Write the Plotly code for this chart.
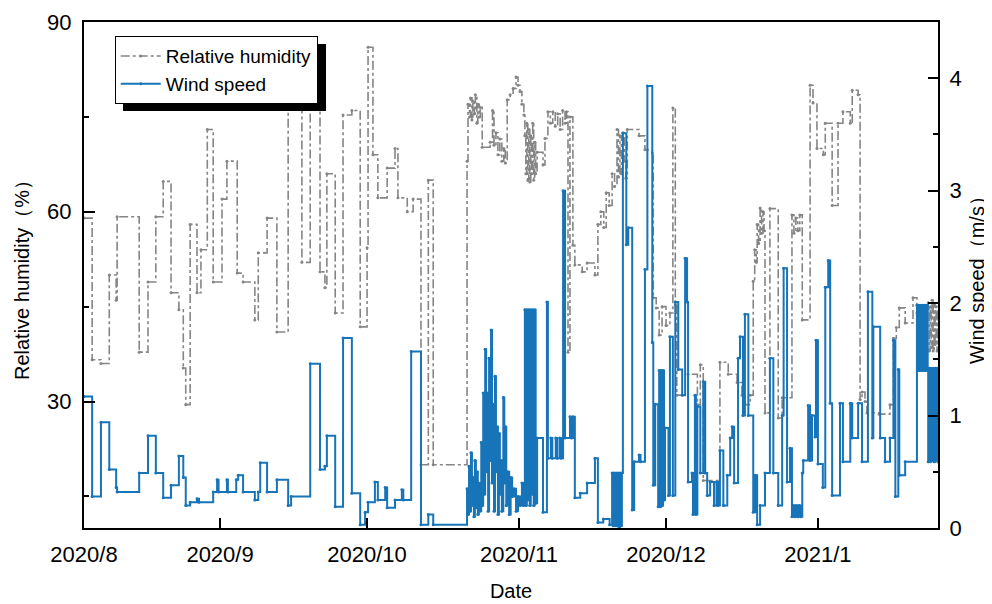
import pandas as pd
import plotly.graph_objects as go

# ---------------- data (day offsets from 2020-08-01) ----------------
BASE_DATE = "2020-08-01"
X_START_DAY = 3.24
X_END_DAY = 177.5

rh_day = [3.24, 4.9, 6.7, 8.4, 9.8, 10.0, 14.5, 16.3, 17.9, 19.4, 21.0, 22.6, 23.5, 24.0, 24.9,
          26.3, 27.1, 28.4, 29.6, 31.4, 32.4, 34.5, 35.7, 38.1, 38.8, 40.6, 42.6, 44.9, 45.5,
          47.7, 49.4, 51.4, 52.4, 52.8, 54.5, 56.1, 57.9, 59.6, 61.0, 61.2, 62.2, 63.2, 65.1,
          66.7, 67.3, 69.2, 70.4, 72.0, 73.5, 74.5,
          81.4, 81.6, 81.9, 82.1, 82.4, 82.6, 82.9, 83.1, 83.4, 83.6, 83.9, 84.1, 84.5,
          86.1, 86.6, 86.9, 87.3, 87.7, 88.1, 88.5, 88.9, 89.2, 89.6, 90.2, 90.8, 91.4, 91.8,
          92.2, 92.6, 93.0, 93.2, 93.4, 93.6, 93.8, 94.0, 94.2, 94.4, 94.6, 94.8, 95.0, 95.2,
          95.4, 95.7, 96.9, 97.3, 97.9, 98.4, 98.9, 99.4, 99.9, 100.4, 100.9, 101.4, 101.7,
          102.0, 102.4, 103.0, 103.4, 104.9, 105.9, 107.5, 108.1, 108.7, 109.3, 109.8, 110.4,
          111.0, 111.5, 112.0, 112.3, 112.6, 112.9, 113.2, 113.5, 113.8, 114.1, 116.5, 117.7,
          119.2, 119.4, 120.0, 120.6, 121.2, 122.0, 122.8, 123.4, 123.9, 124.2, 126.5, 128.4,
          129.0, 129.6, 133.0, 134.7, 136.5, 137.5, 138.1, 139.2, 139.8, 140.1, 140.4, 140.6,
          140.9, 141.2, 141.5, 141.8, 142.0, 142.2, 143.2, 144.9, 145.7, 147.7, 148.1, 148.5,
          148.9, 149.3, 149.8, 151.4, 152.0, 152.8, 154.1, 154.5, 155.9, 157.1, 158.1, 159.6,
          160.0, 161.2, 161.6, 162.0, 162.6, 163.0, 165.5, 167.7, 168.4, 169.0, 169.6, 170.8,
          172.4, 173.2, 175.5, 175.7, 175.9, 176.1, 176.3, 176.5, 176.7, 176.9, 177.1, 177.3,
          177.5]
rh_val = [59, 36.6, 36, 50, 46, 59.2, 37.8, 48.9, 59.2, 64.8, 47.2, 44.5, 35.3, 29.5, 58,
          47.2, 54, 73, 48.9, 62, 68, 50.3, 48.9, 42.9, 53.5, 59, 41, 80, 84,
          52, 78, 50.5, 48, 66, 44, 75.3, 76, 41.8, 54.3, 86, 69, 62.2, 66.9,
          70, 62.2, 60, 62, 20, 65, 20,
          68, 77, 75, 78, 74.5, 77.5, 75.5, 78.5, 74, 77, 75, 76.5, 70.2,
          71, 76, 70.5, 72.5, 69, 71.5, 68, 70, 67.7, 77.7, 78.5, 79.5, 81.3, 80,
          79, 77, 75.3, 72, 66, 74, 65, 73, 64.7, 72, 66, 74, 65, 71,
          66, 69.4, 67.4, 71.6, 75.8, 74, 75.8, 73.5, 75.5, 73, 76, 74, 75.8,
          37.8, 75, 54.7, 51.6, 50.5, 51.9, 50, 58, 60, 57.5, 63, 61,
          66, 64, 73, 65.5, 72, 66, 72.5, 68, 65.3, 73, 72, 69.8,
          69.3, 46.4, 44.8, 40.5, 45, 42, 44, 76.4, 45.3, 31, 34.3, 29.5,
          35.8, 17.5, 36.2, 34.3, 33, 31, 29.5, 31, 49, 54, 52, 58,
          55, 60.6, 56.6, 60, 57, 28.2, 60.5, 27.4, 30.6, 59.5, 56.6, 59,
          57, 59.5, 42.9, 80, 77.2, 70, 69, 74, 61, 74, 75.8, 74,
          79.2, 78.5, 30.3, 31.5, 30, 28.2, 28, 29.5, 40, 41.7, 44.8, 42.4,
          46.4, 44, 45.6, 38, 45, 38.5, 46, 38, 45.5, 39, 45, 38,
          44]

ws_day = [3.24, 4.9, 6.7, 8.4, 9.8, 10.0, 14.5, 16.3, 17.9, 19.4, 21.0, 22.6, 23.5, 24.0, 24.9,
          26.3, 26.7, 29.6, 30.4, 30.7, 32.4, 32.6, 34.3, 34.7, 35.7, 38.1, 38.8, 39.2, 40.6,
          42.6, 44.9, 45.5, 49.4, 51.4, 52.4, 52.8, 54.5, 56.1, 57.9, 59.6, 60.6, 61.2, 62.6,
          63.2, 64.7, 65.1, 66.7, 68.1, 68.4, 70.0, 72.0, 73.5, 74.5,
          81.4, 81.6, 81.8, 82.0, 82.2, 82.4, 82.6, 82.8, 83.0, 83.2, 83.4, 83.6, 83.8, 84.0,
          84.3, 84.5, 84.7, 84.9, 85.1, 85.3, 85.5, 85.7, 85.9, 86.1, 86.3, 86.5, 86.7, 86.9,
          87.1, 87.3, 87.5, 87.7, 87.9, 88.1, 88.3, 88.5, 88.8, 89.0, 89.2, 89.4, 89.7, 90.0,
          90.3, 90.6, 91.0, 91.4, 91.8, 92.2, 92.6, 92.9,
          93.2, 93.4, 93.6, 93.8, 94.0, 94.2, 94.4, 94.6, 94.8, 95.0, 95.2, 95.4,
          95.7, 96.9, 97.7, 97.9, 98.5, 98.8, 99.5, 99.8, 100.3, 100.6, 101.0, 101.4, 102.4,
          102.7, 103.0, 103.4, 104.5, 105.9, 107.5, 108.1, 109.2, 110.5,
          111.0, 111.2, 111.4, 111.6, 111.8, 112.0, 112.2, 112.4, 112.6, 112.8,
          113.0, 113.2, 113.9, 114.3, 115.1, 115.5, 116.5, 116.8, 117.7, 118.2, 119.2, 119.4,
          119.8, 120.4, 120.6, 120.8, 121.0, 121.2, 121.4, 121.6, 121.8, 122.5, 122.8, 123.4,
          123.9, 124.5, 125.3, 125.9, 126.3, 126.5, 127.3, 127.5, 127.9, 128.1, 128.4, 129.0,
          129.6, 130.0, 130.4, 131.0, 131.8, 132.3, 132.6, 133.0, 133.7, 134.5, 135.1, 135.5,
          135.9, 136.7, 137.1, 137.7, 138.1, 138.8, 139.8, 140.2, 140.6, 141.2, 142.2, 143.2,
          143.9, 144.9, 145.7, 146.0, 146.7, 147.3, 147.7, 148.0, 148.3, 148.6, 148.9, 149.2,
          149.5, 149.8, 150.0, 151.0, 151.4, 151.8, 152.4, 152.6, 153.0, 154.0, 154.5, 155.1,
          155.5, 155.9, 157.5, 158.1, 159.6, 160.0, 161.2, 162.0, 163.2, 164.1, 164.3, 165.7,
          166.7, 167.7, 168.4, 168.8, 169.4, 169.6, 170.8,
          173.2, 173.4, 173.6, 173.8, 174.0, 174.2, 174.4, 174.6, 174.8, 175.0, 175.2, 175.4,
          175.5, 175.7, 175.9, 176.1, 176.3, 176.5, 176.7, 176.9, 177.1, 177.3, 177.5]
ws_val = [1.17, 0.28, 0.94, 0.52, 0.36, 0.32, 0.49, 0.82, 0.49, 0.27, 0.38, 0.64, 0.45, 0.2, 0.23,
          0.26, 0.23, 0.32, 0.43, 0.32, 0.43, 0.32, 0.43, 0.47, 0.32, 0.25, 0.32, 0.58, 0.32,
          0.43, 0.2, 0.28, 1.46, 0.52, 0.55, 0.82, 0.19, 1.69, 0.31, 0.03, 0.14, 0.23, 0.41,
          0.25, 0.36, 0.18, 0.25, 0.34, 0.25, 1.57, 0.03, 0.12, 0.03,
          0.35, 0.12, 0.55, 0.15, 0.67, 0.2, 0.45, 0.1, 0.6, 0.18, 0.5, 0.12, 0.4, 0.15,
          0.76, 0.2, 1.2, 0.3, 1.59, 0.5, 1.2, 0.15, 1.51, 0.6, 1.76, 0.4, 1.1, 0.15,
          1.35, 0.5, 0.9, 0.12, 0.84, 0.3, 0.6, 0.15, 1.16, 0.4, 0.9, 0.2, 0.5, 0.12,
          0.45, 0.28, 0.35, 0.15, 0.28, 0.2, 0.4, 0.2,
          1.94, 0.2, 1.94, 0.25, 1.94, 0.2, 1.94, 0.3, 1.94, 0.2, 1.94, 0.22,
          0.8, 0.14, 2.01, 0.62, 0.8, 0.62, 0.8, 0.62, 0.8, 0.62, 3.0, 0.8, 0.99,
          0.8, 0.99, 0.27, 0.31, 0.4, 0.62, 0.05, 0.08, 0.03,
          0.49, 0.02, 0.49, 0.02, 0.49, 0.02, 0.49, 0.0, 0.49, 0.02,
          0.49, 3.51, 2.52, 2.67, 0.16, 0.59, 0.65, 0.59, 2.3, 3.93, 1.65, 0.38,
          1.1, 0.19, 1.4, 0.19, 1.4, 0.2, 1.4, 0.25, 0.89, 0.29, 1.7, 0.29,
          2.01, 1.41, 1.18, 2.4, 2.01, 0.41, 0.49, 0.12, 1.18, 0.12, 1.08, 0.49,
          1.3, 0.49, 0.29, 0.41, 0.2, 0.41, 0.2, 0.69, 0.2, 0.47, 0.8, 0.9,
          0.4, 1.51, 1.7, 1.0, 1.9, 1.0, 0.14, 0.47, 0.03, 0.2, 0.49, 1.51,
          0.49, 0.2, 1.0, 2.31, 0.41, 0.71, 0.1, 0.2, 0.1, 0.2, 0.1, 0.2,
          0.1, 0.49, 0.6, 1.09, 0.6, 1.0, 0.81, 1.67, 0.57, 0.36, 2.14, 2.38,
          1.11, 0.29, 1.11, 0.59, 1.11, 0.8, 1.11, 0.59, 2.1, 0.8, 1.79, 0.8,
          0.59, 0.8, 1.67, 0.28, 1.41, 0.47, 0.59,
          1.98, 1.4, 1.98, 1.4, 1.98, 1.4, 1.98, 1.4, 1.98, 1.4, 1.98, 1.4,
          0.59, 1.42, 0.59, 1.42, 0.6, 1.42, 0.59, 1.42, 0.6, 1.42, 0.59]

x_tick_days = [X_START_DAY, 31, 61, 92, 122, 153]
x_tick_text = ["2020/8", "2020/9", "2020/10", "2020/11", "2020/12", "2021/1"]
rh_ticks = [30, 60, 90]
rh_minor = [15, 45, 75]
ws_ticks = [0, 1, 2, 3, 4]
ws_minor = [0.5, 1.5, 2.5, 3.5, 4.5]

# ---------------- build ----------------
base = pd.Timestamp(BASE_DATE)
to_dt = lambda days: [base + pd.to_timedelta(d, unit="D") for d in days]

FONT = "Arial, 'Liberation Sans', sans-serif"
GRAY = "#858585"
BLUE = "#1874b8"

fig = go.Figure()
fig.add_trace(go.Scatter(
    x=to_dt(rh_day), y=rh_val, name="Relative humidity", mode="lines+markers",
    line=dict(color=GRAY, width=1.6, dash="dashdot", shape="hv"),
    marker=dict(color=GRAY, size=3), yaxis="y"))
fig.add_trace(go.Scatter(
    x=to_dt(ws_day), y=ws_val, name="Wind speed", mode="lines+markers",
    line=dict(color=BLUE, width=2, shape="hv"),
    marker=dict(color=BLUE, size=3), yaxis="y2"))

axis_common = dict(showline=True, linecolor="black", linewidth=2, ticks="inside",
                   tickcolor="black", tickwidth=2, showgrid=False, zeroline=False,
                   automargin=False,
                   tickfont=dict(family=FONT, size=22, color="black"))

# the page body adds an 8px offset, so the figure is 8px smaller and margins shifted
fig.update_layout(
    width=984, height=596,
    margin=dict(l=76, r=54, t=14, b=76, autoexpand=False),
    paper_bgcolor="white", plot_bgcolor="white",
    font=dict(family=FONT, color="black"),
    xaxis=dict(**axis_common, mirror=True, ticklen=10, ticklabelstandoff=6,
               range=to_dt([X_START_DAY, X_END_DAY]),
               tickmode="array", tickvals=to_dt(x_tick_days), ticktext=x_tick_text,
               title=dict(text="Date", font=dict(family=FONT, size=20), standoff=18)),
    yaxis=dict(**axis_common, range=[10, 90], ticklen=11, ticklabelstandoff=6,
               tickmode="array", tickvals=rh_ticks,
               minor=dict(tickvals=rh_minor, ticks="inside", ticklen=5, tickwidth=2, tickcolor="black"),
               title=dict(text="Relative humidity（%）", font=dict(family=FONT, size=20), standoff=12)),
    yaxis2=dict(**axis_common, range=[0, 4.5], overlaying="y", side="right", ticklen=10,
                ticklabelstandoff=5,
                tickmode="array", tickvals=ws_ticks,
                minor=dict(tickvals=ws_minor, ticks="inside", ticklen=5, tickwidth=2, tickcolor="black"),
                title=dict(text="Wind speed（m/s）", font=dict(family=FONT, size=20), standoff=9)),
    legend=dict(x=0.036, y=0.972, xanchor="left", yanchor="top", bgcolor="white",
                bordercolor="black", borderwidth=1, font=dict(family=FONT, size=19),
                tracegroupgap=0, itemwidth=40),
    shapes=[dict(type="rect", xref="paper", yref="paper", x0=0.0457, x1=0.2834,
                 y0=0.824, y1=0.9565, fillcolor="black", line=dict(width=0), layer="above")],
)

fig.write_html("out.html")
